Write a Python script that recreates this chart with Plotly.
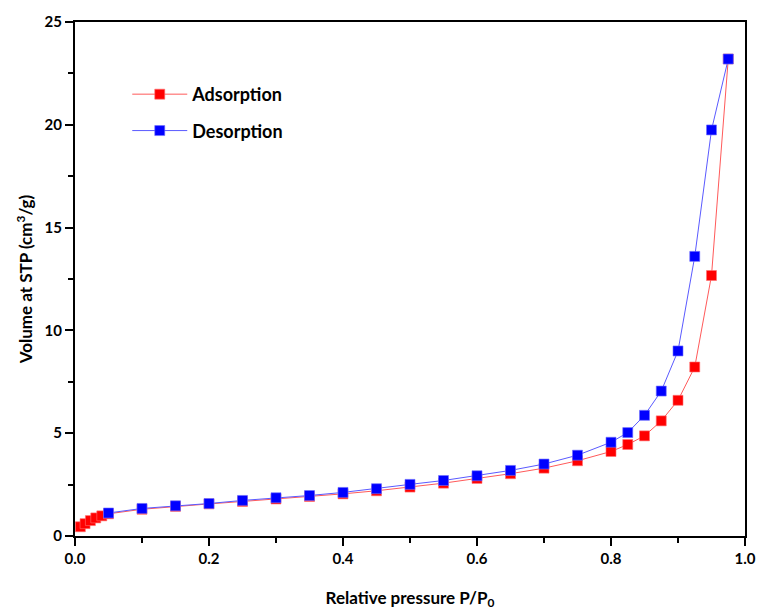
import plotly.graph_objects as go

ads_x = [0.008, 0.015, 0.023, 0.031, 0.04, 0.05, 0.1, 0.15, 0.2, 0.25, 0.3, 0.35, 0.4, 0.45,
         0.5, 0.55, 0.6, 0.65, 0.7, 0.75, 0.8, 0.825, 0.85, 0.875, 0.9, 0.925, 0.95, 0.975]
ads_y = [0.45, 0.6, 0.75, 0.88, 0.98, 1.08, 1.3, 1.44, 1.56, 1.68, 1.8, 1.92, 2.05, 2.2,
         2.38, 2.57, 2.8, 3.03, 3.3, 3.66, 4.11, 4.45, 4.87, 5.6, 6.6, 8.22, 12.67, 23.2]

des_x = [0.975, 0.95, 0.925, 0.9, 0.875, 0.85, 0.825, 0.8, 0.75, 0.7, 0.65, 0.6, 0.55, 0.5,
         0.45, 0.4, 0.35, 0.3, 0.25, 0.2, 0.15, 0.1, 0.05]
des_y = [23.2, 19.75, 13.6, 9.0, 7.05, 5.87, 5.03, 4.56, 3.93, 3.5, 3.19, 2.93, 2.7, 2.51,
         2.3, 2.12, 1.97, 1.86, 1.73, 1.58, 1.47, 1.34, 1.12]

x_tickvals = [0.0, 0.2, 0.4, 0.6, 0.8, 1.0]
x_ticktext = ["0.0", "0.2", "0.4", "0.6", "0.8", "1.0"]

font_family = "Lato, Open Sans, sans-serif"

fig = go.Figure()
fig.add_trace(go.Scatter(
    x=ads_x, y=ads_y, mode="lines+markers", name="Adsorption", legendgroup="a",
    line=dict(color="#ff5a5a", width=1),
    marker=dict(symbol="square", size=10, color="#ff0000", line=dict(color="#ff7070", width=0.6)),
))
fig.add_trace(go.Scatter(
    x=des_x, y=des_y, mode="lines+markers", name="Desorption", legendgroup="d",
    line=dict(color="#5a5aff", width=1),
    marker=dict(symbol="square", size=10, color="#0000ff", line=dict(color="#7070ff", width=0.6)),
))

axis_common = dict(
    showline=True, linecolor="black", linewidth=2, mirror=True,
    ticks="outside", tickwidth=2, tickcolor="black", ticklen=8,
    showgrid=False, zeroline=False, automargin=False,
    tickfont=dict(family=font_family, size=15, color="black", weight="bold"),
)

fig.update_xaxes(
    range=[0, 1], tickmode="array", tickvals=x_tickvals, ticktext=x_ticktext,
    minor=dict(dtick=0.1, tick0=0, ticks="outside", ticklen=5, tickwidth=2, tickcolor="black"),
    title=dict(text="Relative pressure P/P<sub>0</sub>", standoff=26,
               font=dict(family=font_family, size=17, color="black", weight="bold")),
    **axis_common,
)
fig.update_yaxes(
    range=[0, 25], dtick=5, tick0=0,
    minor=dict(dtick=2.5, ticks="outside", ticklen=5, tickwidth=2, tickcolor="black"),
    title=dict(text="Volume at STP (cm<sup>3</sup>/g)", standoff=8,
               font=dict(family=font_family, size=17, color="black", weight="bold")),
    **axis_common,
)

fig.update_layout(
    width=760, height=614,
    margin=dict(l=75, r=15, t=22, b=78),
    paper_bgcolor="white", plot_bgcolor="white",
    legend=dict(x=0.078, y=0.895, xanchor="left", yanchor="top", itemwidth=55,
                bgcolor="rgba(0,0,0,0)", tracegroupgap=10, traceorder="grouped",
                font=dict(family=font_family, size=18, color="black", weight="bold")),
)

fig.write_html(
    "out.html",
    config={"displayModeBar": False},
    post_script="document.body.style.margin='0';"
                "document.documentElement.style.overflow='hidden';"
                "document.body.style.overflow='hidden';",
)
